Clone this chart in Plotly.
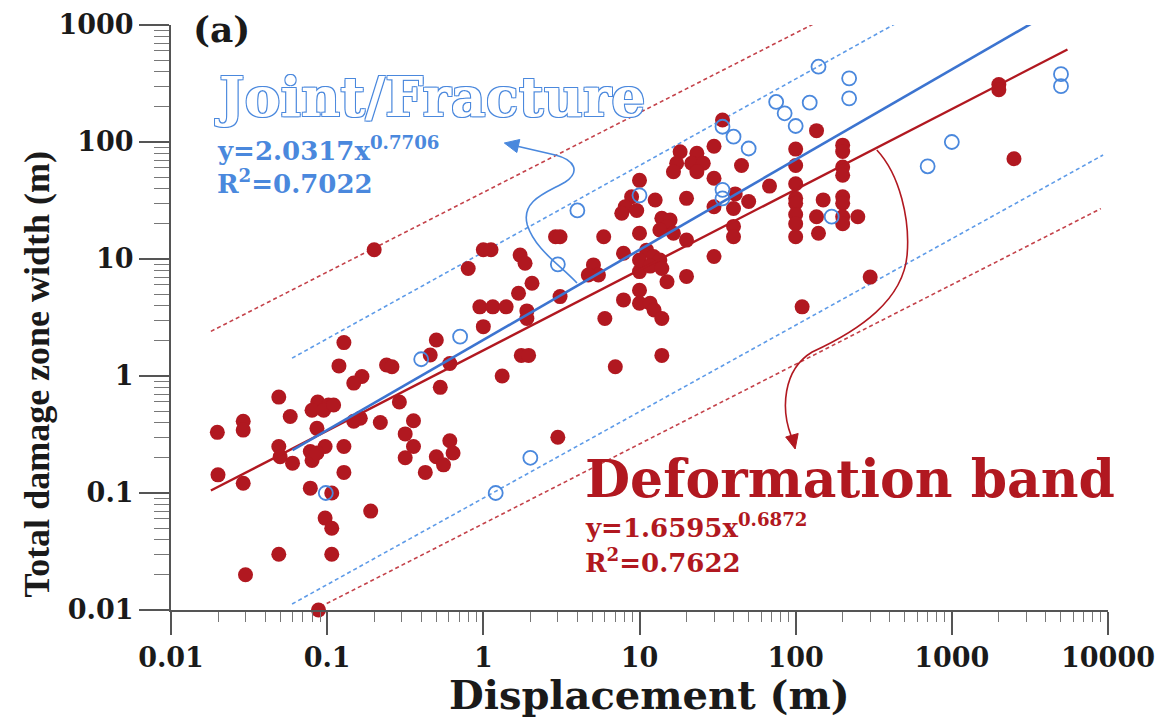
import plotly.graph_objects as go

# ---------------- data ----------------
db_x = [0.128, 0.119, 0.049, 0.24, 0.26, 0.167, 0.148, 0.50, 0.457, 0.61, 0.53, 0.29, 0.058,
        0.087, 0.102, 0.080, 0.095, 0.110,
        0.029, 0.029, 0.0198, 0.086, 0.163, 0.148, 0.219, 0.357, 0.316, 0.357, 0.316, 0.61, 0.64,
        0.50, 0.556, 0.425, 0.049, 0.050, 0.060, 0.078, 0.080, 0.097, 0.086, 0.128, 0.020, 0.029,
        0.128, 0.078, 0.107, 0.19, 0.097, 0.107, 0.049, 0.107, 0.03, 0.088,
        0.2, 0.8, 1.0, 1.12, 1.68, 0.95, 1.15, 1.4, 1.0, 1.9, 1.9, 1.72, 1.85, 2.05, 3.1, 1.75,
        1.95, 1.32, 3.0,
        2.9, 3.1, 5.9, 7.9, 5.07, 5.46, 4.7, 6.0, 7.0, 13.9, 7.9, 10, 10, 11.7, 12.4, 13.9, 15,
        20, 10, 20, 10, 30, 300, 110,
        11.1, 12.3, 10, 13.5, 11.7, 13.9,
        13.9, 15.7, 15, 13.5, 16.5,
        8.9, 8.1, 9.6, 7.7, 12.6, 20, 10,
        18.2, 23.3, 17.3, 21.6, 25.6, 16.5, 23.3,
        34, 136, 30, 45, 30, 68, 100, 100, 100, 100, 100, 100, 100, 100, 140, 136, 150, 200, 200,
        200, 200, 200, 200, 200, 200, 250, 41, 50, 40, 30, 40, 40,
        2000, 2000, 2500]
db_y = [1.93, 1.22, 0.66, 1.24, 1.2, 0.99, 0.87, 2.03, 1.51, 1.28, 0.80, 0.60, 0.45,
        0.60, 0.565, 0.51, 0.51, 0.565,
        0.41, 0.345, 0.33, 0.357, 0.435, 0.41, 0.40, 0.415, 0.32, 0.25, 0.20, 0.28, 0.22,
        0.204, 0.174, 0.15, 0.25, 0.204, 0.18, 0.226, 0.19, 0.25, 0.22, 0.25, 0.143, 0.121,
        0.15, 0.11, 0.10, 0.07, 0.061, 0.05, 0.03, 0.03, 0.02, 0.01,
        12, 8.3, 12, 12, 5.1, 3.9, 3.9, 3.9, 2.64, 3.6, 3.1, 10.8, 9.2, 6.2, 4.77, 1.5,
        1.5, 1.0, 0.3,
        15.5, 15.5, 15.5, 11.2, 8.9, 7.3, 7.3, 3.1, 1.2, 1.5, 4.47, 5.4, 4.18, 4.18, 3.66, 3.1, 6.4,
        7.1, 7.8, 14.5, 16.6, 10.5, 7, 3.9,
        11.9, 10.5, 9.8, 9.8, 8.7, 8.3,
        22.3, 21.5, 18.9, 17.7, 16.6,
        34, 28, 26, 24.6, 31.9, 33, 47,
        82.6, 80, 65.8, 65.8, 65.8, 55.7, 55.7,
        154, 125, 92, 63, 49, 42, 87, 63, 44, 33, 30, 24, 20, 15.5, 16.6, 23, 32, 94, 83,
        61, 52, 34, 30, 23, 20, 23, 36, 31, 27, 28, 19, 15.5,
        310, 280, 72]

jf_x = [0.098, 0.40, 0.71, 1.2, 2, 3, 4, 10, 34, 40, 50, 34, 34, 75, 85, 100, 123, 140, 220,
        220, 170, 700, 1000, 5000, 5000]
jf_y = [0.1, 1.39, 2.17, 0.1, 0.2, 9, 26, 35, 135, 111, 88, 39, 33, 220, 176, 137, 217, 440,
        350, 236, 23, 62, 100, 380, 300]

# power-law fits  y = a * x^b  and their x extents
jf_fit = dict(a=2.0317, b=0.7706, r2=0.7022, xr=[0.06, 3300])
db_fit = dict(a=1.6595, b=0.6872, r2=0.7622, xr=[0.018, 5500])
# envelope (dashed) lines  y = a * x^b
jf_bands = [dict(a=11.45, b=0.740, xr=[0.0596, 465]), dict(a=0.0904, b=0.739, xr=[0.0596, 9300])]
db_bands = [dict(a=37.1, b=0.681, xr=[0.018, 140]), dict(a=0.0547, b=0.681, xr=[0.0906, 9000])]

x_ticks = [0.01, 0.1, 1, 10, 100, 1000, 10000]
x_ticktext = ["0.01", "0.1", "1", "10", "100", "1000", "10000"]
y_ticks = [0.01, 0.1, 1, 10, 100, 1000]
y_ticktext = ["0.01", "0.1", "1", "10", "100", "1000"]

RED = "#B11820"
RED_D = "#C4424A"
BLUE = "#3C74D0"
BLUE_D = "#5E9BE8"
BLUE_M = "#4A88DD"
AX = "#555555"
INK = "#1a1a1a"
SERIF_W = "DejaVu Serif"
SERIF = "Liberation Serif"


def line_pts(p):
    xs = list(p["xr"])
    ys = [p["a"] * x ** p["b"] for x in xs]
    return xs, ys


fig = go.Figure()

for p in db_bands:
    xs, ys = line_pts(p)
    fig.add_trace(go.Scatter(x=xs, y=ys, mode="lines", showlegend=False, hoverinfo="skip",
                             line=dict(color=RED_D, width=1.6, dash="4px,3px")))
for p in jf_bands:
    xs, ys = line_pts(p)
    fig.add_trace(go.Scatter(x=xs, y=ys, mode="lines", showlegend=False, hoverinfo="skip",
                             line=dict(color=BLUE_D, width=1.6, dash="4px,3px")))

fig.add_trace(go.Scatter(x=db_x, y=db_y, mode="markers", name="Deformation band",
                         showlegend=False, cliponaxis=False,
                         marker=dict(size=15, color=RED, line=dict(width=0))))
fig.add_trace(go.Scatter(x=jf_x, y=jf_y, mode="markers", name="Joint/Fracture",
                         showlegend=False, cliponaxis=False,
                         marker=dict(size=14, color=BLUE_M, symbol="circle-open",
                                     line=dict(width=1.8, color=BLUE_M))))

xs, ys = line_pts(db_fit)
fig.add_trace(go.Scatter(x=xs, y=ys, mode="lines", showlegend=False, hoverinfo="skip",
                         line=dict(color=RED, width=2.4)))
xs, ys = line_pts(jf_fit)
fig.add_trace(go.Scatter(x=xs, y=ys, mode="lines", showlegend=False, hoverinfo="skip",
                         line=dict(color=BLUE, width=2.6)))

# ---------- decorations (reference pixel -> paper helpers) ----------
L, R, T, B = 170.5, 1108.0, 25.0, 610.0


def P(px, py):
    return (px - L) / (R - L), (B - py) / (B - T)


def path(cmds):
    out = []
    for c in cmds:
        if isinstance(c, str):
            out.append(c)
        else:
            x, y = P(*c)
            out.append(f"{x:.5f},{y:.5f}")
    return " ".join(out)


shapes = []
# blue curved arrow
shapes.append(dict(type="path", xref="paper", yref="paper",
                   path=path(["M", (576.7, 283), "C", (560, 265), (535, 250), (527, 225),
                              "C", (520, 200), (548, 192), (565, 182),
                              "C", (580, 172), (575, 160), (555, 155), "L", (516, 146)]),
                   line=dict(color=BLUE_M, width=1.6)))
shapes.append(dict(type="path", xref="paper", yref="paper",
                   path=path(["M", (504, 143), "L", (519.5, 139.5), "L", (516.5, 152.5), "Z"]),
                   line=dict(color=BLUE_M, width=1), fillcolor=BLUE_M))
# red curved arrow
shapes.append(dict(type="path", xref="paper", yref="paper",
                   path=path(["M", (876.7, 150), "C", (900, 175), (910, 220), (907, 255),
                              "C", (903, 300), (860, 330), (812, 352),
                              "C", (782, 370), (781, 410), (791, 436)]),
                   line=dict(color=RED, width=1.6)))
shapes.append(dict(type="path", xref="paper", yref="paper",
                   path=path(["M", (795, 449), "L", (798, 433.5), "L", (785.5, 437), "Z"]),
                   line=dict(color=RED, width=1), fillcolor=RED))

annotations = []


def ann(text, px, py, size, color, family=SERIF_W, xanchor="center", **kw):
    x, y = P(px, py)
    font = dict(family=family, size=size, color=color, weight="bold")
    font.update(kw.pop("font_extra", {}))
    d = dict(text=text, x=x, y=y, xref="paper", yref="paper", showarrow=False,
             xanchor=xanchor, yanchor="middle", font=font)
    d.update(kw)
    annotations.append(d)


ann("(a)", 221, 29, 36, INK)
ann("Joint/Fracture", 430, 97, 54, "white",
    font_extra=dict(shadow=f"-1px -1px 0 {BLUE_M}, 1px -1px 0 {BLUE_M}, "
                           f"-1px 1px 0 {BLUE_M}, 1px 1px 0 {BLUE_M}"))
ann(f"y={jf_fit['a']:.4f}x<sup>{jf_fit['b']:.4f}</sup>", 215, 149, 26, BLUE_M, xanchor="left")
ann(f"R<sup>2</sup>={jf_fit['r2']:.4f}", 215, 182, 26, BLUE_M, xanchor="left")
ann("Deformation band", 850, 478, 52, RED)
ann(f"y={db_fit['a']:.4f}x<sup>{db_fit['b']:.4f}</sup>", 583, 526, 26, RED, xanchor="left")
ann(f"R<sup>2</sup>={db_fit['r2']:.4f}", 583, 561, 26, RED, xanchor="left")
ann("Displacement (m)", 649, 694, 40, INK)
ann("Total damage zone width (m)", 36, 374, 36, INK, family=SERIF, textangle=-90)

W, H = 1173, 722
fig.update_layout(
    width=W, height=H,
    margin=dict(l=L, r=W - R, t=T, b=H - B, autoexpand=False),
    paper_bgcolor="white", plot_bgcolor="white",
    shapes=shapes, annotations=annotations,
    showlegend=False,
)
fig.update_xaxes(type="log", range=[-2, 4], showgrid=False, zeroline=False,
                 showline=True, linecolor=AX, linewidth=2,
                 tickvals=x_ticks, ticktext=x_ticktext, ticks="outside", ticklen=23,
                 tickwidth=1.6, tickcolor=AX,
                 tickfont=dict(family=SERIF_W, size=27, color=INK, weight="bold"),
                 minor=dict(ticks="outside", ticklen=10, tickwidth=1.3, tickcolor="#777777",
                            showgrid=False, dtick="D1"))
fig.update_yaxes(type="log", range=[-2, 3], showgrid=False, zeroline=False,
                 showline=True, linecolor=AX, linewidth=2,
                 tickvals=y_ticks, ticktext=y_ticktext, ticks="outside", ticklen=30,
                 tickwidth=1.6, tickcolor=AX,
                 tickfont=dict(family=SERIF_W, size=27, color=INK, weight="bold"),
                 minor=dict(ticks="outside", ticklen=15, tickwidth=1.3, tickcolor="#777777",
                            showgrid=False, dtick="D1"))

# remove the default 8px page margin so the figure fills the window exactly
fig.write_html("out.html", config={"displayModeBar": False},
               post_script="document.body.style.margin='0';")
